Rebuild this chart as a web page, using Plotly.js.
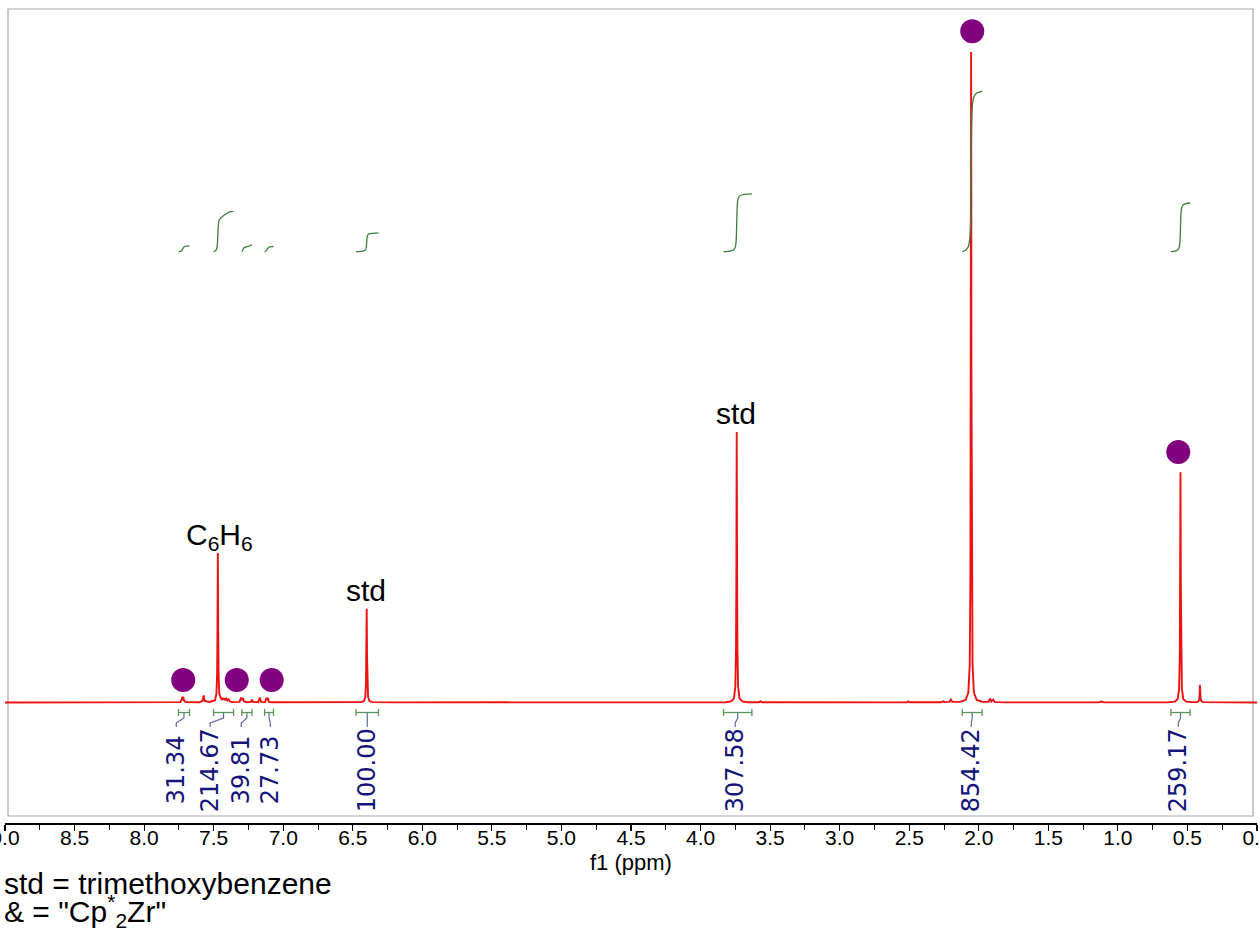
<!DOCTYPE html>
<html>
<head>
<meta charset="utf-8">
<script src="https://cdn.plot.ly/plotly-3.0.1.min.js"></script>
<style>html,body{margin:0;padding:0;background:#fff;overflow:hidden;}#chart{width:1259px;height:930px;}</style>
</head>
<body>
<div id="chart"></div>
<script>
// ---- spectrum (ppm, normalised intensity; tallest = 100) ----
const spectrumPpm = [
  9.00, 7.80, 7.74, 7.729, 7.725, 7.7215, 7.718, 7.714, 7.70,
  7.60, 7.580, 7.572, 7.565, 7.53,
  7.49, 7.48, 7.475, 7.4725, 7.470, 7.4675, 7.465, 7.46,
  7.452, 7.446, 7.441, 7.436, 7.430, 7.424, 7.418, 7.410, 7.402, 7.392, 7.380, 7.36,
  7.315, 7.302, 7.296, 7.290, 7.282, 7.26, 7.233, 7.226, 7.219, 7.18, 7.168, 7.160,
  7.13, 7.123, 7.117, 7.111, 7.103, 7.08, 6.60,
  6.44, 6.42, 6.41, 6.405, 6.4025, 6.400, 6.3975, 6.395, 6.39, 6.38, 6.36, 6.20,
  5.00, 3.95, 3.925, 3.915,
  3.82, 3.78, 3.76, 3.75, 3.745, 3.7425, 3.740, 3.7375, 3.735, 3.73, 3.72, 3.70, 3.66,
  3.58, 3.57, 3.56, 2.60, 2.515, 2.507, 2.499,
  2.27, 2.255, 2.245, 2.21, 2.200, 2.19,
  2.135, 2.095, 2.075, 2.065, 2.060, 2.0575, 2.055, 2.0525, 2.050, 2.045, 2.035, 2.015, 1.975,
  1.93, 1.920, 1.910, 1.897, 1.885, 1.80, 1.14, 1.12, 1.10, 0.65,
  0.63, 0.59, 0.57, 0.56, 0.555, 0.5525, 0.550, 0.5475, 0.545, 0.54, 0.53, 0.51, 0.47,
  0.43, 0.42, 0.415, 0.4125, 0.410, 0.4075, 0.405, 0.40, 0.39, 0.30, 0.00
];
const spectrumInt = [
  0.00, 0.02, 0.06, 0.45, 0.90, 0.55, 0.85, 0.30, 0.05,
  0.04, 0.25, 1.10, 0.25, 0.08,
  0.35, 1.35, 4.60, 11.5, 23.0, 11.5, 4.60, 1.40,
  0.85, 0.70, 0.40, 0.72, 0.45, 0.65, 0.35, 0.60, 0.30, 0.50, 0.12, 0.05,
  0.10, 0.75, 0.35, 0.70, 0.15, 0.05, 0.10, 0.45, 0.10, 0.05, 0.75, 0.10,
  0.06, 0.70, 0.35, 0.75, 0.10, 0.03, 0.02,
  0.06, 0.22, 0.85, 2.90, 7.20, 14.4, 7.20, 2.90, 0.85, 0.22, 0.06, 0.02,
  0.02, 0.02, 0.12, 0.03,
  0.04, 0.16, 0.64, 2.45, 8.30, 20.8, 41.6, 20.8, 8.30, 2.45, 0.64, 0.16, 0.04,
  0.03, 0.20, 0.03, 0.02, 0.03, 0.15, 0.03,
  0.04, 0.18, 0.06, 0.10, 0.45, 0.12,
  0.10, 0.39, 1.54, 5.90, 20.0, 50.0, 100.0, 50.0, 20.0, 5.90, 1.54, 0.39, 0.12,
  0.10, 0.60, 0.15, 0.45, 0.06, 0.02, 0.02, 0.15, 0.02, 0.02,
  0.03, 0.14, 0.54, 2.10, 7.10, 17.7, 35.4, 17.7, 7.10, 2.10, 0.54, 0.14, 0.05,
  0.05, 0.20, 0.55, 1.35, 2.70, 1.35, 0.55, 0.20, 0.05, 0.02, 0.00
];

// ---- integrals ----
const integralFrom   = [7.753, 7.501, 7.297, 7.134, 6.477, 3.835, 2.119, 0.619];
const integralTo     = [7.674, 7.357, 7.225, 7.070, 6.315, 3.631, 1.976, 0.481];
const integralValues = [31.34, 214.67, 39.81, 27.73, 100.00, 307.58, 854.42, 259.17];
const integralLabelPpm = [7.769, 7.525, 7.302, 7.093, 6.396, 3.751, 2.054, 0.566];

// ---- marked ("Cp*2Zr") signals ----
const markedPpm = [7.719, 7.334, 7.083, 2.047, 0.566];
const markedLevel = [3.46, 3.46, 3.46, 103.2, 38.5];

// ---- peak labels ----
const peakLabels = ['C<sub>6</sub>H<sub>6</sub>', 'std', 'std'];
const peakLabelPpm = [7.46, 6.403, 3.744];

// ---- tick values ----
const tickVals = [9.0, 8.5, 8.0, 7.5, 7.0, 6.5, 6.0, 5.5, 5.0, 4.5, 4.0, 3.5, 3.0, 2.5, 2.0, 1.5, 1.0, 0.5, 0.0];

// ================= drawing =================
const BASE_PX = 702.5, PX_PER_UNIT = 6.505, PLOT_TOP = 9, PLOT_BOTTOM = 823;
const yAt = px => (BASE_PX - px) / PX_PER_UNIT;
const paperY = px => (PLOT_BOTTOM - px) / (PLOT_BOTTOM - PLOT_TOP);
const INT_BASE = yAt(251.7);
const INT_SCALE = 0.188 / PX_PER_UNIT;
const TEXT_FONT = 'Liberation Sans, Arial, Helvetica, sans-serif';

function specAt(p) {
  for (let i = 0; i < spectrumPpm.length - 1; i++) {
    const a = spectrumPpm[i], b = spectrumPpm[i + 1];
    if (p <= a && p >= b) {
      const t = (a - p) / (a - b);
      return spectrumInt[i] + t * (spectrumInt[i + 1] - spectrumInt[i]);
    }
  }
  return 0;
}

const traces = [];
traces.push({
  x: spectrumPpm, y: spectrumInt, type: 'scatter', mode: 'lines',
  line: {color: '#ee1111', width: 1.9}, hoverinfo: 'skip'
});

const shapes = [];
const annotations = [];
const brY = yAt(712.5), brTop = yAt(709), brBot = yAt(716);

integralValues.forEach((val, k) => {
  const hi = integralFrom[k], lo = integralTo[k];
  // cumulative integral of the spectrum over the region
  const xs = [hi], areas = [0];
  let px = hi, py = specAt(hi), area = 0;
  spectrumPpm.forEach((p, i) => {
    if (p < hi && p > lo) {
      area += (px - p) * (py + spectrumInt[i]) / 2;
      xs.push(p); areas.push(area); px = p; py = spectrumInt[i];
    }
  });
  const ly = specAt(lo);
  area += (px - lo) * (py + ly) / 2;
  xs.push(lo); areas.push(area);
  const ys = areas.map(a => INT_BASE + (a / area) * val * INT_SCALE);
  traces.push({x: xs, y: ys, type: 'scatter', mode: 'lines',
    line: {color: '#3d7d3d', width: 1.3, shape: 'spline', smoothing: 0.3}, hoverinfo: 'skip'});

  // bracket
  const bc = '#5c955c';
  shapes.push({type: 'line', xref: 'x', yref: 'y', x0: hi, x1: lo, y0: brY, y1: brY, line: {color: bc, width: 1.3}});
  shapes.push({type: 'line', xref: 'x', yref: 'y', x0: hi, x1: hi, y0: brTop, y1: brBot, line: {color: bc, width: 1.3}});
  shapes.push({type: 'line', xref: 'x', yref: 'y', x0: lo, x1: lo, y0: brTop, y1: brBot, line: {color: bc, width: 1.3}});
  // connector to label
  const cx = (hi + lo) / 2, lx = integralLabelPpm[k];
  shapes.push({type: 'path', xref: 'x', yref: 'y',
    path: `M ${cx},${yAt(713)} L ${cx},${yAt(718)} L ${lx},${yAt(723)} L ${lx},${yAt(727)}`,
    line: {color: '#5d6b99', width: 1.2}});
  // value label
  annotations.push({x: lx, y: yAt(770), xref: 'x', yref: 'y', text: val.toFixed(2),
    textangle: -90, showarrow: false, xanchor: 'center', yanchor: 'middle',
    font: {family: 'DejaVu Sans', size: 24, color: '#14147a'}});
});

traces.push({
  x: markedPpm, y: markedLevel, type: 'scatter', mode: 'markers',
  marker: {color: '#800080', size: 24, line: {width: 0}}, hoverinfo: 'skip'
});

const peakLabelY = [yAt(536), yAt(590), yAt(413)];
peakLabels.forEach((t, i) => {
  annotations.push({x: peakLabelPpm[i], y: peakLabelY[i], xref: 'x', yref: 'y', text: t,
    showarrow: false, xanchor: 'center', yanchor: 'middle',
    font: {family: TEXT_FONT, size: 30, color: '#000'}});
});

annotations.push({x: 0.5, y: paperY(862), xref: 'paper', yref: 'paper', text: 'f1 (ppm)',
  showarrow: false, xanchor: 'center', yanchor: 'middle',
  font: {family: TEXT_FONT, size: 22, color: '#000'}});
annotations.push({x: 0, y: paperY(883), xref: 'paper', yref: 'paper', text: 'std = trimethoxybenzene',
  showarrow: false, xanchor: 'left', yanchor: 'middle', xshift: -3,
  font: {family: TEXT_FONT, size: 30, color: '#000'}});
annotations.push({x: 0, y: paperY(911), xref: 'paper', yref: 'paper', text: '& = "Cp<sup>*</sup><sub>2</sub>Zr"',
  showarrow: false, xanchor: 'left', yanchor: 'middle', xshift: -3,
  font: {family: TEXT_FONT, size: 30, color: '#000'}});

// frame
shapes.push({type: 'rect', xref: 'paper', yref: 'paper', x0: 3 / 1252, x1: 1248 / 1252,
  y0: paperY(816), y1: 1, line: {color: '#a8a8a8', width: 1.2}, fillcolor: 'rgba(0,0,0,0)', layer: 'below'});

const layout = {
  width: 1259, height: 930,
  margin: {l: 5, r: 2, t: PLOT_TOP, b: 930 - PLOT_BOTTOM, pad: 0},
  paper_bgcolor: '#fff', plot_bgcolor: '#fff',
  showlegend: false,
  xaxis: {
    range: [9, 0], showgrid: false, zeroline: false,
    showline: true, linecolor: '#000', linewidth: 1.6,
    ticks: 'outside', ticklen: 6, tickwidth: 1.2, tickcolor: '#000',
    tickmode: 'array', tickvals: tickVals, ticktext: tickVals.map(v => v.toFixed(1)),
    ticklabeloverflow: 'allow', ticklabelstandoff: -11,
    tickfont: {family: TEXT_FONT, size: 21, color: '#000'},
    minor: {dtick: 0.25, tick0: 0, ticks: 'outside', ticklen: 5, tickwidth: 1, tickcolor: '#000', showgrid: false},
    fixedrange: true
  },
  yaxis: {range: [yAt(PLOT_BOTTOM), yAt(PLOT_TOP)], visible: false, showgrid: false, zeroline: false, fixedrange: true},
  shapes: shapes,
  annotations: annotations
};

Plotly.newPlot('chart', traces, layout, {displayModeBar: false, staticPlot: true});
</script>
</body>
</html>
